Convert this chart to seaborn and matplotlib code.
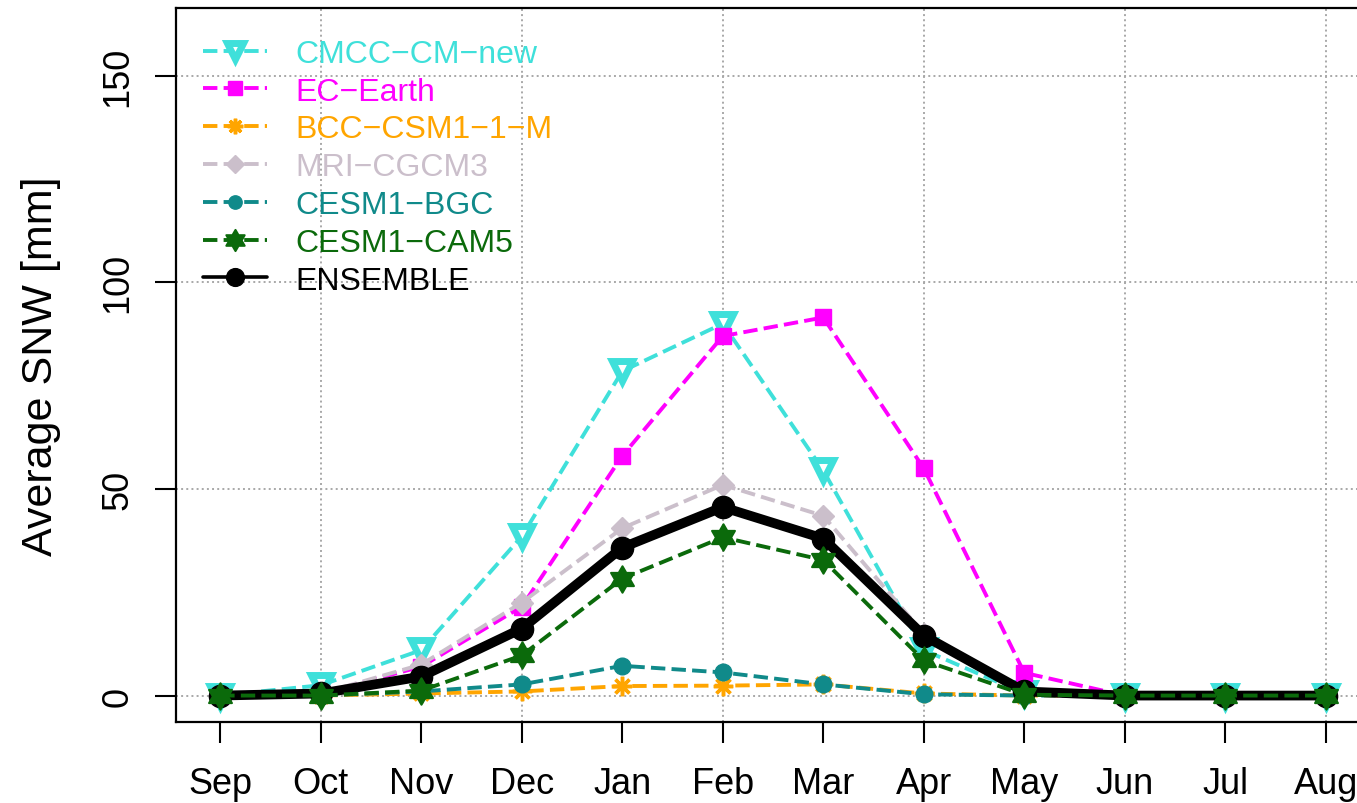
import numpy as np
import pandas as pd
import matplotlib
matplotlib.use("Agg")
import matplotlib.pyplot as plt
from matplotlib.path import Path
import seaborn as sns

# ---- data -------------------------------------------------------------
months = ["Sep", "Oct", "Nov", "Dec", "Jan", "Feb", "Mar", "Apr", "May", "Jun", "Jul", "Aug"]

cmcc_cm_new = [0.0, 2.5, 11.0, 38.5, 78.5, 90.0, 54.5, 11.0, 0.5, 0.0, 0.0, 0.0]
ec_earth = [0.0, 0.5, 7.0, 21.5, 58.0, 87.0, 91.5, 55.0, 5.5, 0.0, 0.0, 0.0]
bcc_csm1_1_m = [0.0, 0.0, 0.5, 1.0, 2.3, 2.4, 2.7, 0.5, 0.0, 0.0, 0.0, 0.0]
mri_cgcm3 = [0.0, 0.5, 7.5, 22.5, 40.5, 51.0, 43.5, 15.0, 0.5, 0.0, 0.0, 0.0]
cesm1_bgc = [0.0, 0.0, 1.0, 2.7, 7.2, 5.6, 2.7, 0.3, 0.0, 0.0, 0.0, 0.0]
cesm1_cam5 = [0.0, 0.0, 1.2, 9.7, 28.3, 38.3, 32.8, 8.5, 0.2, 0.0, 0.0, 0.0]
ensemble = [0.0, 0.5, 4.6, 16.2, 35.8, 45.6, 38.0, 14.5, 1.0, 0.0, 0.0, 0.0]

model_names = ["CMCC\u2212CM\u2212new", "EC\u2212Earth", "BCC\u2212CSM1\u22121\u2212M",
               "MRI\u2212CGCM3", "CESM1\u2212BGC", "CESM1\u2212CAM5", "ENSEMBLE"]
model_values = [cmcc_cm_new, ec_earth, bcc_csm1_1_m, mri_cgcm3, cesm1_bgc, cesm1_cam5, ensemble]

y_ticks = [0, 50, 100, 150]
y_label = "Average SNW [mm]"

df = pd.DataFrame({
    "month": months * len(model_names),
    "snw": np.concatenate(model_values),
    "model": np.repeat(model_names, len(months)),
})

# ---- styling ----------------------------------------------------------
sns.set_theme(style="white")
plt.rcParams["font.family"] = ["Liberation Sans", "DejaVu Sans"]

# six-pointed star (two overlapping triangles) used as a marker
_a_out = np.deg2rad(90 + 60 * np.arange(6))
_a_in = np.deg2rad(120 + 60 * np.arange(6))
_r_in = 1 / np.sqrt(3)
_verts = []
for ao, ai in zip(_a_out, _a_in):
    _verts.append((np.cos(ao), np.sin(ao)))
    _verts.append((_r_in * np.cos(ai), _r_in * np.sin(ai)))
_verts.append(_verts[0])
hexagram = Path(_verts, closed=True)

dash = (4, 2.5)
styles = {
    "CMCC\u2212CM\u2212new": dict(color="#3fe0da", marker="v", ms=14, mfc="white", mew=5, ls="--", lw=2.8, z=3),
    "EC\u2212Earth": dict(color="#ff00ff", marker="s", ms=12, mfc=None, mew=1, ls="--", lw=2.8, z=3),
    "BCC\u2212CSM1\u22121\u2212M": dict(color="#ffa500", marker=(8, 2, 0), ms=14, mfc=None, mew=2.5, ls="--", lw=2.8, z=3),
    "MRI\u2212CGCM3": dict(color="#cbbfcb", marker="D", ms=11, mfc=None, mew=1, ls="--", lw=2.8, z=3),
    "CESM1\u2212BGC": dict(color="#108a8a", marker="o", ms=12, mfc=None, mew=1, ls="--", lw=2.8, z=3),
    "CESM1\u2212CAM5": dict(color="#0b6a0b", marker=hexagram, ms=19, mfc=None, mew=1.5, ls="--", lw=2.8, z=5),
    "ENSEMBLE": dict(color="black", marker="o", ms=16, mfc=None, mew=1, ls="-", lw=7, z=4),
}

fig = plt.figure(figsize=(13.57, 8.04), dpi=100)
ax = fig.add_axes([176 / 1357, 81 / 804, 1194 / 1357, 714 / 804])

for name in model_names:
    st = styles[name]
    sub = df[df["model"] == name]
    kw = dict(color=st["color"], marker=st["marker"], markersize=st["ms"],
              markeredgecolor=st["color"], markeredgewidth=st["mew"],
              markerfacecolor=st["mfc"] if st["mfc"] else st["color"],
              linewidth=st["lw"], zorder=st["z"], label=name)
    if st["ls"] == "--":
        kw["linestyle"] = "--"
        kw["dashes"] = dash
    else:
        kw["linestyle"] = "-"
    sns.lineplot(data=sub, x="month", y="snw", sort=False, errorbar=None, ax=ax, **kw)

# ---- axes -------------------------------------------------------------
ax.set_xlim(-0.44, len(months) - 1 + 0.44)
ax.set_ylim(-6.4, 166.4)
ax.set_xticks(range(len(months)))
ax.set_xticklabels(months, fontsize=26)
ax.set_yticks(y_ticks)
ax.set_yticklabels([str(v) for v in y_ticks], fontsize=26, rotation=90, va="center")
ax.tick_params(axis="both", direction="out", length=15, width=1.5, color="black",
               labelcolor="black", left=True, bottom=True)
ax.tick_params(axis="x", pad=17)
ax.tick_params(axis="y", pad=14)

ax.set_xlabel("")
ax.set_ylabel(y_label, fontsize=31, color="black")
ax.yaxis.set_label_coords((61 - 176) / 1194, 0.5)

for sp in ax.spines.values():
    sp.set_color("black")
    sp.set_linewidth(1.6)
    sp.set_visible(True)

# dotted reference grid (R-style pretty breaks)
grid_kw = dict(color="#a8a8a8", linestyle=":", linewidth=1.4, zorder=0)
for v in y_ticks:
    ax.axhline(v, **grid_kw)
for pos in range(1, len(months), 2):
    ax.axvline(pos, **grid_kw)

# ---- legend -----------------------------------------------------------
handles, labels = ax.get_legend_handles_labels()
leg = ax.legend(handles, labels, loc="upper left", bbox_to_anchor=(27 / 1194, 0.957),
                frameon=False, fontsize=23, handlelength=2.0, handletextpad=0.88,
                labelspacing=0.245, borderpad=0, borderaxespad=0, numpoints=1)
for t, name in zip(leg.get_texts(), labels):
    t.set_color(styles[name]["color"])
for h, name in zip(leg.legend_handles, labels):
    h.set_markersize(styles[name]["ms"] * 0.8)
    if name == "ENSEMBLE":
        h.set_linewidth(2.6)

fig.savefig("out.png", dpi=100)
